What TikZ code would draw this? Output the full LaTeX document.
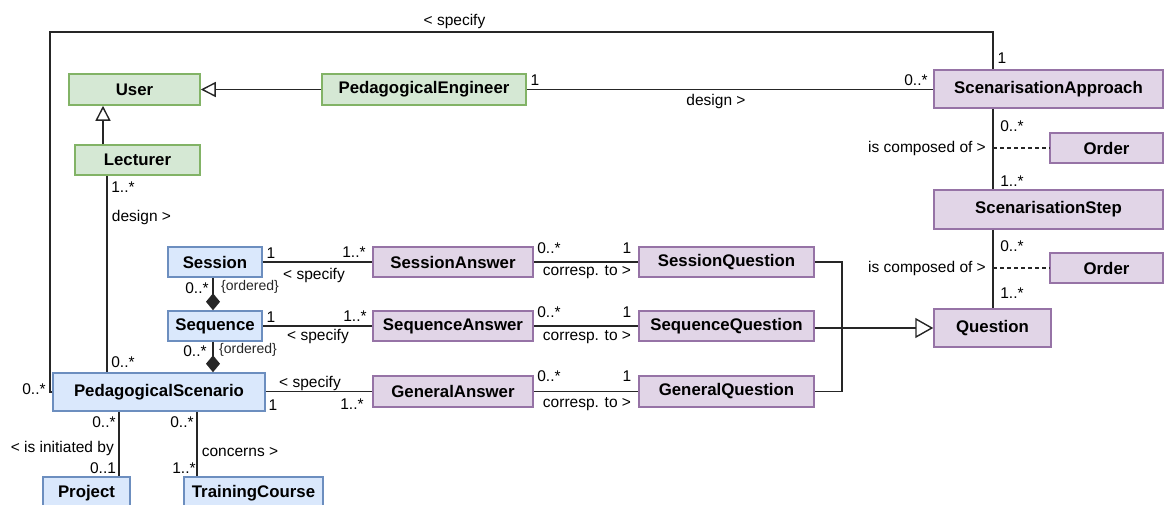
\documentclass[tikz,border=0pt]{standalone}
\usepackage{fontspec}
\setmainfont{Liberation Sans}
\usetikzlibrary{arrows.meta}
\definecolor{gfill}{HTML}{D5E8D4}\definecolor{gdraw}{HTML}{82B366}
\definecolor{bfill}{HTML}{DAE8FC}\definecolor{bdraw}{HTML}{6C8EBF}
\definecolor{pfill}{HTML}{E1D5E7}\definecolor{pdraw}{HTML}{9673A6}
\definecolor{ln}{HTML}{262626}
\tikzset{
  cls/.style={draw, line width=1.5pt, inner sep=0pt, anchor=center,
    font=\fontsize{16.8}{18}\selectfont\bfseries, text=black},
  gcls/.style={cls, fill=gfill, draw=gdraw},
  bcls/.style={cls, fill=bfill, draw=bdraw},
  pcls/.style={cls, fill=pfill, draw=pdraw},
  lbl/.style={inner sep=0pt, font=\fontsize{15.5}{17}\selectfont, text=black},
  olbl/.style={inner sep=0pt, font=\fontsize{14}{16}\selectfont, text=black!85},
  conn/.style={draw=ln, line width=1.5pt},
  gen/.style={conn, -{Triangle[open, length=15pt, width=15pt, line width=1.4pt]}},
  bigen/.style={conn, -{Triangle[open, length=18pt, width=20pt, line width=1.4pt]}},
  comp/.style={conn, -{Diamond[length=17pt, width=14pt]}},
  dsh/.style={conn, dash pattern=on 4pt off 3pt}
}
\begin{document}
\begin{tikzpicture}[x=1pt, y=-1pt]
\useasboundingbox (0,0) rectangle (1164,504);
\clip (0,0) rectangle (1164,504);
% classes
\node[gcls, minimum width=131pt, minimum height=31pt] (User) at (134.5,89.5) {User};
\node[gcls, minimum width=204pt, minimum height=31pt] (PedEng) at (424,89.5) {PedagogicalEngineer};
\node[gcls, minimum width=125pt, minimum height=30pt] (Lecturer) at (137.5,160) {Lecturer};
\node[pcls, minimum width=229pt, minimum height=38pt] (ScenAppr) at (1048.5,89) {ScenarisationApproach};
\node[pcls, minimum width=113pt, minimum height=30pt] (Order1) at (1106.5,148) {Order};
\node[pcls, minimum width=229pt, minimum height=39pt] (ScenStep) at (1048.5,209.5) {ScenarisationStep};
\node[pcls, minimum width=113pt, minimum height=30pt] (Order2) at (1106.5,268) {Order};
\node[pcls, minimum width=117pt, minimum height=38pt] (Question) at (992.5,328) {Question};
\node[bcls, minimum width=94pt, minimum height=30pt] (Session) at (215,262) {Session};
\node[bcls, minimum width=94pt, minimum height=30pt] (Sequence) at (215,326) {Sequence};
\node[bcls, minimum width=212pt, minimum height=38pt] (PedScen) at (159,392) {PedagogicalScenario};
\node[bcls, minimum width=87pt, minimum height=33pt] (Project) at (86.5,493.5) {\raisebox{-2pt}{Project}};
\node[bcls, minimum width=139pt, minimum height=33pt] (Training) at (253.5,493.5) {\raisebox{-2pt}{TrainingCourse}};
\node[pcls, minimum width=160pt, minimum height=30pt] (SesAns) at (453,262) {SessionAnswer};
\node[pcls, minimum width=175pt, minimum height=30pt] (SesQ) at (726.5,262) {SessionQuestion};
\node[pcls, minimum width=160pt, minimum height=30pt] (SeqAns) at (453,326) {SequenceAnswer};
\node[pcls, minimum width=175pt, minimum height=30pt] (SeqQ) at (726.5,326) {SequenceQuestion};
\node[pcls, minimum width=160pt, minimum height=31pt] (GenAns) at (453,391.5) {GeneralAnswer};
\node[pcls, minimum width=175pt, minimum height=31pt] (GenQ) at (726.5,391.5) {GeneralQuestion};
% helper coordinates
\coordinate (topL) at (50,32);
\coordinate (topR) at (993,32);
\coordinate (vx) at (993,0);
\coordinate (lx) at (103,0);
\coordinate (dx) at (107,0);
\coordinate (sx) at (213,0);
\coordinate (px) at (119,0);
\coordinate (tx) at (197,0);
\coordinate (gx) at (842,0);
% connectors
\draw[conn] (PedScen.west) -| (topL) -- (topR) -- (topR |- ScenAppr.north);
\draw[gen] (PedEng.west) -- (User.east);
\draw[gen] (Lecturer.north -| lx) -- (User.south -| lx);
\draw[conn] (PedEng.east) -- (PedEng.east -| ScenAppr.west);
\draw[conn] (Lecturer.south -| dx) -- (PedScen.north -| dx);
\draw[conn] (ScenAppr.south -| vx) -- (ScenStep.north -| vx);
\draw[dsh] (Order1.west -| vx) -- (Order1.west);
\draw[conn] (ScenStep.south -| vx) -- (Question.north -| vx);
\draw[dsh] (Order2.west -| vx) -- (Order2.west);
\draw[conn] (Session.east) -- (SesAns.west);
\draw[conn] (SesAns.east) -- (SesQ.west);
\draw[conn] (Sequence.east) -- (SeqAns.west);
\draw[conn] (SeqAns.east) -- (SeqQ.west);
\draw[conn] (PedScen.east |- GenAns.west) -- (GenAns.west);
\draw[conn] (GenAns.east) -- (GenQ.west);
\draw[comp] (Session.south -| sx) -- (Sequence.north -| sx);
\draw[comp] (Sequence.south -| sx) -- (PedScen.north -| sx);
\draw[conn] (SesQ.east) -- (SesQ.east -| gx) -- (GenQ.east -| gx) -- (GenQ.east);
\draw[bigen] (SeqQ.east |- Question.west) -- (Question.west);
\draw[conn] (PedScen.south -| px) -- (Project.north -| px);
\draw[conn] (PedScen.south -| tx) -- (Training.north -| tx);
% labels
\node[lbl] (l1) at (454.5,21) {< specify};
\node[lbl] (l2) at (1002,58) {1};
\node[lbl] (l3) at (916,80) {0..*};
\node[lbl] (l4) at (535,80) {1};
\node[lbl] (l5) at (716,101) {design >};
\node[lbl] (l6) at (1012,126) {0..*};
\node[lbl, anchor=east] (l7) at (986,148) {is composed of >};
\node[lbl] (l8) at (1012,181) {1..*};
\node[lbl] (l9) at (1012,246) {0..*};
\node[lbl, anchor=east] (l10) at (986,268) {is composed of >};
\node[lbl] (l11) at (1012,293) {1..*};
\node[lbl] (l12) at (123,187) {1..*};
\node[lbl] (l13) at (141.5,217) {design >};
\node[lbl] (l14) at (123,362) {0..*};
\node[lbl] (l15) at (34,389) {0..*};
\node[lbl] (l16) at (271,253) {1};
\node[lbl] (l17) at (354,252) {1..*};
\node[lbl] (l18) at (314,275) {< specify};
\node[lbl] (l19) at (197,288) {0..*};
\node[olbl] (l20) at (250,287) {\{ordered\}};
\node[lbl] (l21) at (271,317) {1};
\node[lbl] (l22) at (355,316) {1..*};
\node[lbl] (l23) at (318,336) {< specify};
\node[lbl] (l24) at (195,351) {0..*};
\node[olbl] (l25) at (248,350) {\{ordered\}};
\node[lbl] (l26) at (310,383) {< specify};
\node[lbl] (l27) at (273,405) {1};
\node[lbl] (l28) at (352,404) {1..*};
\node[lbl] (l29) at (549,248) {0..*};
\node[lbl] (l30) at (627,248) {1};
\node[lbl] (l31) at (587,272) {corresp. to >};
\node[lbl] (l32) at (549,312) {0..*};
\node[lbl] (l33) at (627,312) {1};
\node[lbl] (l34) at (587,337) {corresp. to >};
\node[lbl] (l35) at (549,376) {0..*};
\node[lbl] (l36) at (627,376) {1};
\node[lbl] (l37) at (587,404) {corresp. to >};
\node[lbl] (l38) at (104,422) {0..*};
\node[lbl, anchor=east] (l39) at (114,448) {< is initiated by};
\node[lbl] (l40) at (103,468) {0..1};
\node[lbl] (l41) at (182,422) {0..*};
\node[lbl] (l42) at (240,452) {concerns >};
\node[lbl] (l43) at (184,468) {1..*};
\end{tikzpicture}
\end{document}
